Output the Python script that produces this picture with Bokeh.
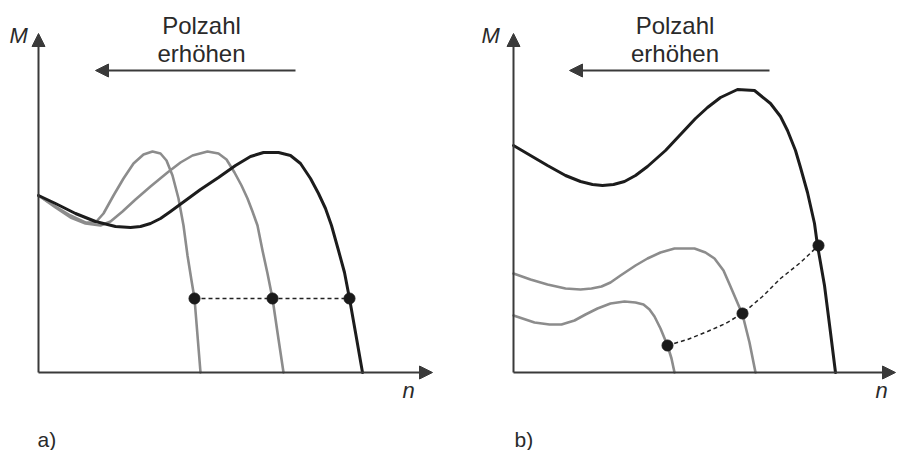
from bokeh.plotting import figure
from bokeh.layouts import row
from bokeh.models import Arrow, NormalHead, Label, Range1d
from bokeh.embed import file_html
from bokeh.resources import INLINE

# ---------------- data (n, M) ----------------
# Panel a) – same pull-out torque, different pole numbers
a_black_n = [0, 17, 37, 57, 77, 92, 102, 112, 122, 132, 147, 162, 180, 197, 212, 225, 240, 252, 262, 272, 280, 287, 293, 300, 306, 311, 317, 324]
a_black_M = [177, 169, 159, 151, 146, 145, 146, 149, 154, 161, 172, 183, 195, 207, 216, 220, 220, 217, 209, 194, 179, 164, 147, 122, 100, 74, 40, 0]
a_gray1_n = [0, 17, 32, 47, 57, 65, 75, 85, 95, 105, 114, 122, 128, 134, 140, 145, 149, 153, 156, 159, 162]
a_gray1_M = [177, 166, 157, 150, 150, 159, 177, 194, 209, 218, 221, 219, 212, 197, 174, 147, 117, 92, 74, 37, 0]
a_gray2_n = [0, 17, 32, 47, 62, 72, 84, 97, 112, 129, 142, 154, 169, 180, 188, 196, 203, 209, 214, 219, 224, 229, 234, 239, 245]
a_gray2_M = [177, 165, 155, 149, 147, 151, 161, 173, 186, 200, 210, 217, 221, 219, 213, 200, 187, 174, 161, 147, 122, 99, 74, 40, 0]
a_pts_n = [156, 234, 311]
a_pts_M = [74, 74, 74]

# Panel b)
b_black_n = [0, 17, 34, 52, 67, 79, 89, 100, 111, 122, 134, 152, 167, 182, 194, 207, 224, 241, 257, 267, 274, 282, 287, 294, 301, 304, 311, 317, 322]
b_black_M = [227, 217, 207, 197, 191, 188, 187, 188, 191, 197, 206, 222, 238, 254, 265, 275, 283, 282, 269, 256, 242, 222, 205, 180, 149, 127, 87, 40, 0]
b_gray1_n = [0, 17, 34, 52, 67, 78, 88, 97, 107, 122, 134, 147, 161, 181, 192, 201, 210, 217, 223, 229, 236, 242]
b_gray1_M = [99, 93, 88, 84, 83, 84, 86, 90, 97, 107, 114, 120, 124, 124, 120, 114, 102, 86, 72, 58, 30, 0]
b_gray2_n = [0, 21, 36, 48, 61, 72, 84, 97, 111, 122, 130, 136, 141, 147, 154, 158, 161]
b_gray2_M = [57, 50, 48, 48, 52, 58, 64, 69, 71, 70, 68, 63, 56, 44, 27, 14, 0]
b_dash_n = [154, 174, 194, 212, 229, 249, 267, 287, 305]
b_dash_M = [27, 33, 41, 49, 59, 76, 94, 110, 127]
b_pts_n = [154, 229, 305]
b_pts_M = [27, 59, 127]

# axes / annotation extents
a_axis = dict(n_max=394, M_max=339, arr_from=257, arr_to=57, arr_M=302, txt_n=163, lbl_M=-29, lbl_n=364)
b_axis = dict(n_max=382, M_max=339, arr_from=256, arr_to=56, arr_M=302, txt_n=161.5, lbl_M=-32, lbl_n=362)
title_text = ["Polzahl", "erhöhen"]
panel_tags = ["a)", "b)"]

FONT = "Liberation Sans"
AX = "#3a3a3a"
BLACK = "#1c1c1c"
GRAY = "#8c8c8c"
TXT = "#2a2a2a"


def make_panel(width, xr, curves_black, curves_gray, dash, pts, ax, tag, tag_n):
    p = figure(width=width, height=450, x_range=Range1d(*xr), y_range=Range1d(-78, 372),
               output_backend="svg", toolbar_location=None, min_border=0,
               x_axis_type=None, y_axis_type=None)
    p.grid.visible = False
    p.outline_line_color = None
    p.background_fill_color = "white"
    p.border_fill_color = "white"

    # axes with arrows
    for xs, ys, xe, ye in [(0, 0, 0, ax["M_max"]), (0, 0, ax["n_max"], 0)]:
        p.add_layout(Arrow(end=NormalHead(size=13, fill_color=AX, line_color=AX, line_width=1),
                           x_start=xs, y_start=ys, x_end=xe, y_end=ye,
                           line_color=AX, line_width=2))

    for n, M in curves_gray:
        p.line(n, M, line_color=GRAY, line_width=2.6, line_join="round", line_cap="round")
    for n, M in curves_black:
        p.line(n, M, line_color=BLACK, line_width=3, line_join="round", line_cap="round")

    p.line(dash[0], dash[1], line_color="#222222", line_width=1.5, line_dash="4 3")
    p.scatter(pts[0], pts[1], size=11, fill_color="#1a1a1a", line_color="#1a1a1a")

    # "Polzahl erhöhen" arrow
    p.add_layout(Arrow(end=NormalHead(size=13, fill_color=AX, line_color=AX, line_width=1),
                       x_start=ax["arr_from"], y_start=ax["arr_M"], x_end=ax["arr_to"], y_end=ax["arr_M"],
                       line_color=AX, line_width=2))
    p.add_layout(Label(x=ax["txt_n"], y=347, text=title_text[0], text_align="center",
                       text_baseline="alphabetic", text_font=FONT, text_font_size="24px", text_color=TXT))
    p.add_layout(Label(x=ax["txt_n"], y=319, text=title_text[1], text_align="center",
                       text_baseline="alphabetic", text_font=FONT, text_font_size="24px", text_color=TXT))

    # axis labels
    p.add_layout(Label(x=ax["lbl_M"], y=337, text="M", text_align="left", text_baseline="alphabetic",
                       text_font=FONT, text_font_size="22px", text_font_style="italic", text_color=TXT))
    p.add_layout(Label(x=ax["lbl_n"], y=-18, text="n", text_align="left", text_baseline="alphabetic",
                       text_font=FONT, text_font_size="22px", text_font_style="italic", text_color=TXT))
    p.add_layout(Label(x=tag_n, y=-67, text=tag, text_align="left", text_baseline="alphabetic",
                       text_font=FONT, text_font_size="21px", text_color=TXT))
    return p


pa = make_panel(447, (-38, 409),
                [(a_black_n, a_black_M)],
                [(a_gray1_n, a_gray1_M), (a_gray2_n, a_gray2_M)],
                (a_pts_n, a_pts_M), (a_pts_n, a_pts_M), a_axis, panel_tags[0], -1)
pb = make_panel(450, (-66, 384),
                [(b_black_n, b_black_M)],
                [(b_gray1_n, b_gray1_M), (b_gray2_n, b_gray2_M)],
                (b_dash_n, b_dash_M), (b_pts_n, b_pts_M), b_axis, panel_tags[1], 1)

layout = row(pa, pb, spacing=0)
open("out.html", "w").write(file_html(layout, INLINE))
